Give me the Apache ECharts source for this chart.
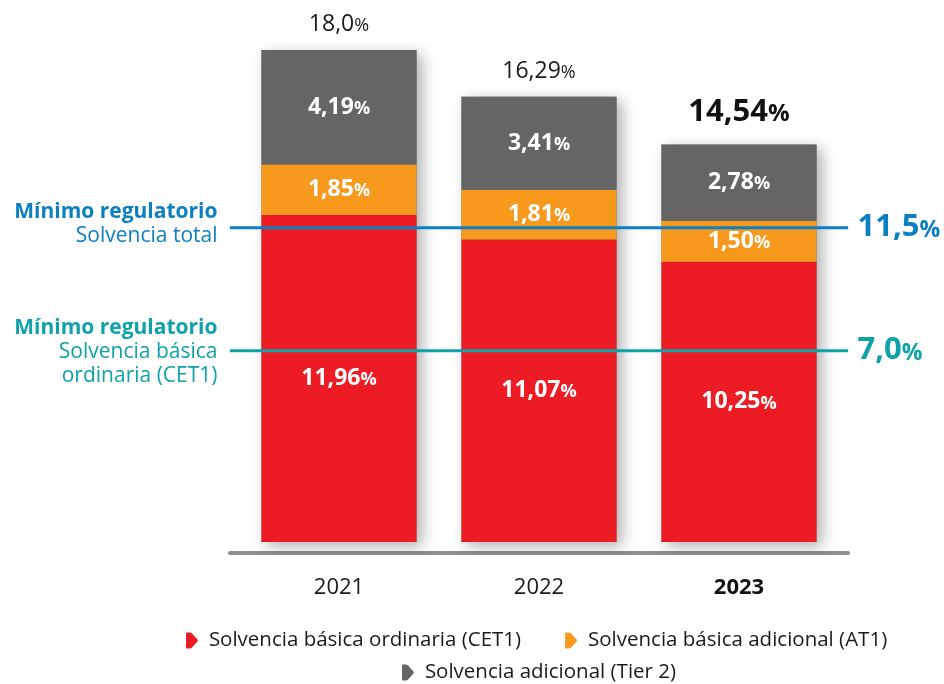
<!DOCTYPE html>
<html>
<head>
<meta charset="utf-8">
<script src="https://cdn.jsdelivr.net/npm/echarts@6/dist/echarts.min.js"></script>
<style>
  html, body { margin: 0; padding: 0; background: #fff; }
  #chart { width: 944px; height: 684px; }
</style>
</head>
<body>
<div id="chart"></div>
<script>
// Capital ratios by year (%)
const years = ['2021', '2022', '2023'];
const cet1 = [11.96, 11.07, 10.25];
const at1 = [1.85, 1.81, 1.50];
const tier2 = [4.19, 3.41, 2.78];
const totals = [18.0, 16.29, 14.54];
const totalDecimals = [1, 2, 2];

// Regulatory minimums (%)
const minTotal = 11.5;
const minCet1 = 7.0;

const names = {
  cet1: 'Solvencia básica ordinaria (CET1)',
  at1: 'Solvencia básica adicional (AT1)',
  tier2: 'Solvencia adicional (Tier 2)'
};

const FONT = '"Open Sans", "Noto Sans", sans-serif';
const RED = '#ed1c24', ORANGE = '#f7991d', GREY = '#656565';
const BLUE = '#0b7fc2', TEAL = '#0fa2a8';

const fmt = (v, d) => v.toFixed(d).replace('.', ',');

const innerLabel = {
  show: true,
  position: 'inside',
  formatter: p => `{n|${fmt(p.value, 2)}}{p|%}`,
  rich: {
    n: { fontFamily: FONT, fontSize: 23, fontWeight: 'bold', color: '#fff' },
    p: { fontFamily: FONT, fontSize: 18, fontWeight: 'bold', color: '#fff', padding: [3, 0, 0, 0] }
  }
};

const arrowIcon = 'path://M1,0 L4,0 Q5,0 6,1 L11.5,7 Q12,8 11.5,9 L6,15 Q5,16 4,16 L1,16 Q0,16 0,15 L0,1 Q0,0 1,0 Z';

function refLine(value, color, leftLines) {
  const leftText = leftLines.map((t, i) => i === 0 ? `{b|${t}}` : `{r|${t}}`).join('\n');
  const rich = {
    b: { fontFamily: FONT, fontSize: 21, fontWeight: 'bold', color, lineHeight: 24, align: 'right' },
    r: { fontFamily: FONT, fontSize: 21, color, lineHeight: 24, align: 'right' },
    n: { fontFamily: FONT, fontSize: 31, fontWeight: 'bold', color },
    p: { fontFamily: FONT, fontSize: 23, fontWeight: 'bold', color, padding: [5, 0, 0, 0] }
  };
  return {
    type: 'line',
    xAxisIndex: 1,
    yAxisIndex: 1,
    z: 5,
    symbol: 'circle',
    symbolSize: 1,
    silent: true,
    lineStyle: { color, width: 3 },
    itemStyle: { color },
    data: [
      {
        value: [0, value],
        label: {
          show: true, position: 'left', distance: 12, align: 'right',
          offset: leftLines.length === 2 ? [0, -4] : [0, 1],
          formatter: leftText, rich
        }
      },
      {
        value: [1, value],
        label: {
          show: true, position: 'right', distance: 9,
          formatter: `{n|${fmt(value, 1)}}{p|%}`, rich
        }
      }
    ]
  };
}

const chart = echarts.init(document.getElementById('chart'));
chart.setOption({
  animation: false,
  backgroundColor: '#fff',
  grid: [
    { left: 239, right: 105, top: 50, bottom: 142 },
    { left: 230, right: 96, top: 50, bottom: 142 }
  ],
  xAxis: [
    {
      type: 'category', gridIndex: 0, data: years,
      axisLine: { show: false }, axisTick: { show: false },
      axisLabel: {
        margin: 35,
        formatter: (v, i) => i === years.length - 1 ? `{b|${v}}` : `{r|${v}}`,
        rich: {
          r: { fontFamily: FONT, fontSize: 22, color: '#1a1a1a' },
          b: { fontFamily: FONT, fontSize: 22, fontWeight: 'bold', color: '#111' }
        }
      }
    },
    {
      type: 'value', gridIndex: 1, min: 0, max: 1, offset: 11,
      axisLine: { show: true, onZero: false, lineStyle: { color: '#8f8f8f', width: 4, cap: 'round' } },
      axisTick: { show: false }, axisLabel: { show: false }, splitLine: { show: false }
    }
  ],
  yAxis: [
    { type: 'value', gridIndex: 0, min: 0, max: 18, show: false },
    { type: 'value', gridIndex: 1, min: 0, max: 18, show: false }
  ],
  legend: [
    {
      data: [names.cet1, names.at1],
      left: 186, top: 630, padding: 0,
      icon: arrowIcon, itemWidth: 12, itemHeight: 16, itemGap: 44,
      textStyle: { fontFamily: FONT, fontSize: 20.5, color: '#1a1a1a', padding: [0, 0, 0, 6] }
    },
    {
      data: [names.tier2],
      left: 402, top: 662, padding: 0,
      icon: arrowIcon, itemWidth: 12, itemHeight: 16,
      textStyle: { fontFamily: FONT, fontSize: 20.5, color: '#1a1a1a', padding: [0, 0, 0, 6] }
    }
  ],
  series: [
    {
      // full-height backing bar: casts the shadow and carries the total label
      name: 'total', type: 'bar', barWidth: 155, barGap: '-100%', z: 1, silent: true,
      itemStyle: {
        color: GREY, shadowColor: 'rgba(0,0,0,0.32)', shadowBlur: 14,
        shadowOffsetX: 5, shadowOffsetY: 4
      },
      data: totals.map((v, i) => ({
        value: v,
        label: {
          show: true, position: 'top',
          distance: i === totals.length - 1 ? 17 : 14,
          formatter: i === totals.length - 1
            ? `{nb|${fmt(v, totalDecimals[i])}}{pb|%}`
            : `{n|${fmt(v, totalDecimals[i])}}{p|%}`,
          rich: {
            n: { fontFamily: FONT, fontSize: 23, color: '#1a1a1a' },
            p: { fontFamily: FONT, fontSize: 18, color: '#1a1a1a', padding: [3, 0, 0, 0] },
            nb: { fontFamily: FONT, fontSize: 31, fontWeight: 'bold', color: '#111' },
            pb: { fontFamily: FONT, fontSize: 24, fontWeight: 'bold', color: '#111', padding: [4, 0, 0, 0] }
          }
        }
      }))
    },
    {
      name: names.cet1, type: 'bar', stack: 'cap', barWidth: 155, z: 2,
      itemStyle: { color: RED }, label: innerLabel, data: cet1
    },
    {
      name: names.at1, type: 'bar', stack: 'cap', barWidth: 155, z: 2,
      itemStyle: { color: ORANGE }, label: innerLabel, data: at1
    },
    {
      name: names.tier2, type: 'bar', stack: 'cap', barWidth: 155, z: 2,
      itemStyle: { color: GREY }, label: innerLabel, data: tier2
    },
    refLine(minTotal, BLUE, ['Mínimo regulatorio', 'Solvencia total']),
    refLine(minCet1, TEAL, ['Mínimo regulatorio', 'Solvencia básica', 'ordinaria (CET1)'])
  ]
});
</script>
</body>
</html>
